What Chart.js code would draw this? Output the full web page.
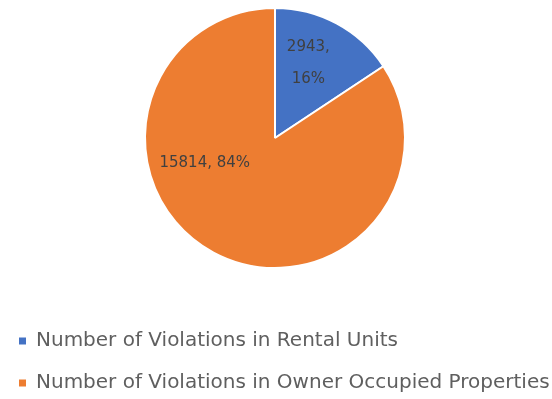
<!DOCTYPE html>
<html>
<head>
<meta charset="utf-8">
<script src="https://cdn.jsdelivr.net/npm/chart.js@4.4.0/dist/chart.umd.min.js"></script>
<style>
    html, body { margin: 0; padding: 0; background: #fff; overflow: hidden; }
    #wrap { position: absolute; left: -3px; top: -33px; width: 556px; height: 436px; }
</style>
</head>
<body>
<div id="wrap"><canvas id="pieChart" width="556" height="436"></canvas></div>
<script>
const categories = [
    'Number of Violations in Rental Units',
    'Number of Violations in Owner Occupied Properties',
]
const violationCounts = [2943, 15814]
const percentLabels = ['16%', '84%']
const sliceColors = ['#4472C4', '#ED7D31']

// where each value label sits inside its slice: angle (deg from 12 o'clock) and radius ratio
const labelPlacement = [
    { angle: 24, ratio: 0.63, lines: (v, p) => [`${v},`, p], lineGap: 32 },
    { angle: 250, ratio: 0.575, lines: (v, p) => [`${v}, ${p}`], lineGap: 0 },
]

const valueLabels = {
    id: 'valueLabels',
    afterDatasetsDraw(chart) {
        const ctx = chart.ctx
        const meta = chart.getDatasetMeta(0)
        ctx.save()
        ctx.font = '15px "DejaVu Sans"'
        ctx.fillStyle = '#404040'
        ctx.textAlign = 'center'
        ctx.textBaseline = 'middle'
        meta.data.forEach((arc, i) => {
            const place = labelPlacement[i]
            const rad = (place.angle - 90) * Math.PI / 180
            const r = arc.outerRadius * place.ratio
            const x = arc.x + Math.cos(rad) * r
            const y = arc.y + Math.sin(rad) * r
            const lines = place.lines(violationCounts[i], percentLabels[i])
            const startY = y - (lines.length - 1) * place.lineGap / 2
            lines.forEach((line, j) => {
                ctx.fillText(line, x, startY + j * place.lineGap)
            })
        })
        ctx.restore()
    },
}

const ctx = document.getElementById('pieChart').getContext('2d')
new Chart(ctx, {
    type: 'pie',
    data: {
        labels: categories,
        datasets: [
            {
                data: violationCounts,
                backgroundColor: sliceColors,
                borderColor: '#ffffff',
                borderWidth: 2,
                radius: 130,
            },
        ],
    },
    options: {
        responsive: false,
        animation: false,
        layout: { padding: 0 },
        plugins: {
            tooltip: { enabled: false },
            legend: {
                position: 'bottom',
                align: 'start',
                labels: {
                    boxWidth: 7,
                    boxHeight: 7,
                    padding: 22,
                    color: '#5f5f5f',
                    font: { family: '"DejaVu Sans"', size: 20 },
                    generateLabels(chart) {
                        const items = Chart.overrides.pie.plugins.legend.labels.generateLabels(chart)
                        items.forEach((item) => {
                            item.lineWidth = 0
                        })
                        return items
                    },
                },
            },
        },
    },
    plugins: [valueLabels],
})
</script>
</body>
</html>
